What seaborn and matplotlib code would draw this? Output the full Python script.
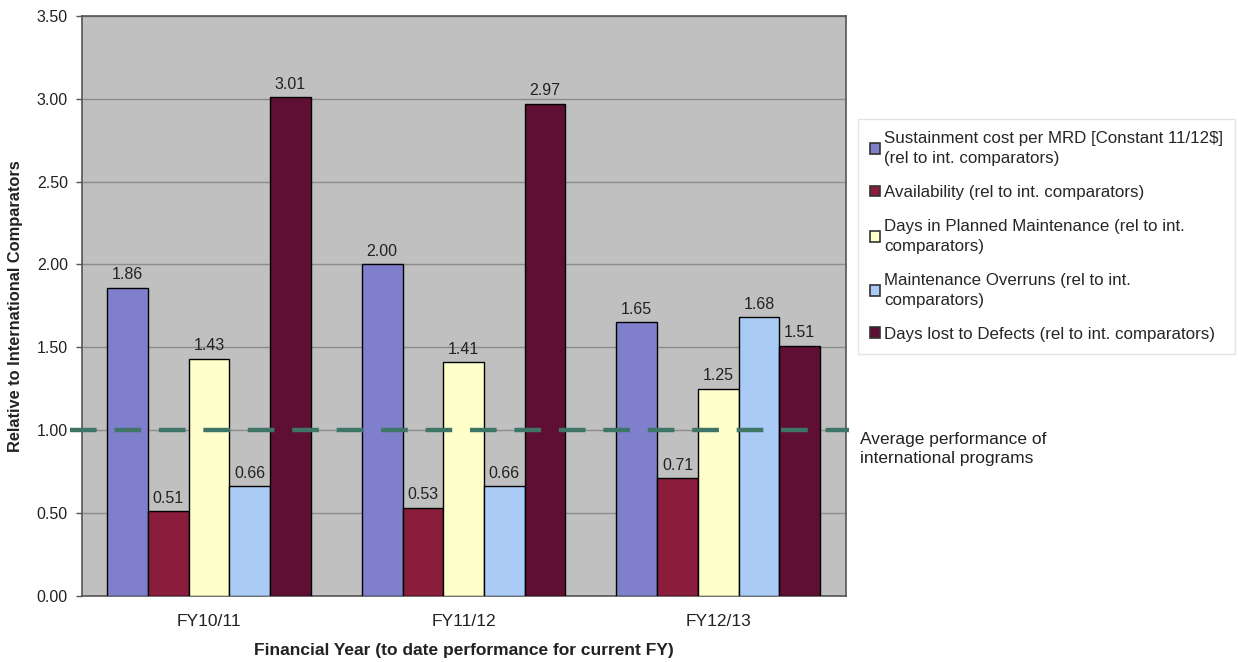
import matplotlib
matplotlib.use("Agg")
import matplotlib.pyplot as plt
import seaborn as sns
import pandas as pd

# Financial years and the five relative performance measures
years = ["FY10/11", "FY11/12", "FY12/13"]
metrics = [
    "Sustainment cost per MRD [Constant 11/12$]\n(rel to int. comparators)",
    "Availability (rel to int. comparators)",
    "Days in Planned Maintenance (rel to int.\ncomparators)",
    "Maintenance Overruns (rel to int.\ncomparators)",
    "Days lost to Defects (rel to int. comparators)",
]
sustainment_cost = [1.86, 2.00, 1.65]
availability = [0.51, 0.53, 0.71]
planned_maintenance = [1.43, 1.41, 1.25]
maintenance_overruns = [0.66, 0.66, 1.68]
days_lost_defects = [3.01, 2.97, 1.51]
y_ticks = [0.0, 0.5, 1.0, 1.5, 2.0, 2.5, 3.0, 3.5]
benchmark = 1.0

colors = ["#7F7FCC", "#8A1C3C", "#FFFFCC", "#A9CBF5", "#5E0F33"]

series = [sustainment_cost, availability, planned_maintenance,
          maintenance_overruns, days_lost_defects]
df = pd.DataFrame({
    "year": [y for s in series for y in years],
    "metric": [m for m, s in zip(metrics, series) for _ in s],
    "value": [v for s in series for v in s],
})

sns.set_theme(style="white")
plt.rcParams["font.family"] = ["Liberation Sans", "DejaVu Sans"]

fig = plt.figure(figsize=(12.38, 6.62), dpi=100)
ax = fig.add_axes([0.066, 0.100, 0.617, 0.876])
ax.set_facecolor("#C0C0C0")

sns.barplot(data=df, x="year", y="value", hue="metric", hue_order=metrics,
            order=years, palette=colors, saturation=1, width=0.8,
            edgecolor="black", linewidth=1.0, ax=ax, legend=False, zorder=3)

for cont in ax.containers:
    ax.bar_label(cont, fmt="%.2f", padding=4, fontsize=11.5, color="#222222")

ax.set_ylim(0, 3.5)
ax.set_xlim(-0.5, 2.5)
ax.set_yticks(y_ticks)
ax.set_yticklabels([f"{t:.2f}" for t in y_ticks], fontsize=11.5, color="#222222")
ax.tick_params(axis="x", labelsize=12.5, colors="#222222", length=0, pad=13)
ax.tick_params(axis="y", length=4, width=1, color="#555555", left=True, pad=6)
ax.yaxis.grid(True, color="#8C8C8C", linewidth=1, zorder=0)
ax.set_axisbelow(True)
for sp in ax.spines.values():
    sp.set_color("#555555")
    sp.set_linewidth(1.2)

ax.set_xlabel("Financial Year (to date performance for current FY)",
              fontsize=12.5, fontweight="bold", labelpad=10, color="#222222")
ax.set_ylabel("Relative to International Comparators",
              fontsize=11.8, fontweight="bold", labelpad=10, color="#222222")

# International average benchmark line
ax.axhline(benchmark, xmin=-0.015, xmax=1.005, color="#3E7566", linewidth=3.2,
           dashes=(6, 4), clip_on=False, zorder=5)
fig.text(0.695, 0.322, "Average performance of\ninternational programs",
         fontsize=12.5, va="center", ha="left", color="#222222",
         linespacing=1.3)

handles = [plt.Rectangle((0, 0), 1, 1, facecolor=c, edgecolor="#333333",
                         linewidth=1.2) for c in colors]
leg = fig.legend(handles, metrics, loc="upper left",
                 bbox_to_anchor=(0.693, 0.82), borderaxespad=0,
                 fontsize=12.2, frameon=True,
                 fancybox=False, edgecolor="#DDDDDD", handlelength=0.6,
                 handleheight=0.6, handletextpad=0.25, labelspacing=1.1,
                 borderpad=0.7)
for t in leg.get_texts():
    t.set_linespacing(1.45)
leg.get_frame().set_linewidth(1.0)

fig.savefig("out.png", dpi=100, facecolor="white")
